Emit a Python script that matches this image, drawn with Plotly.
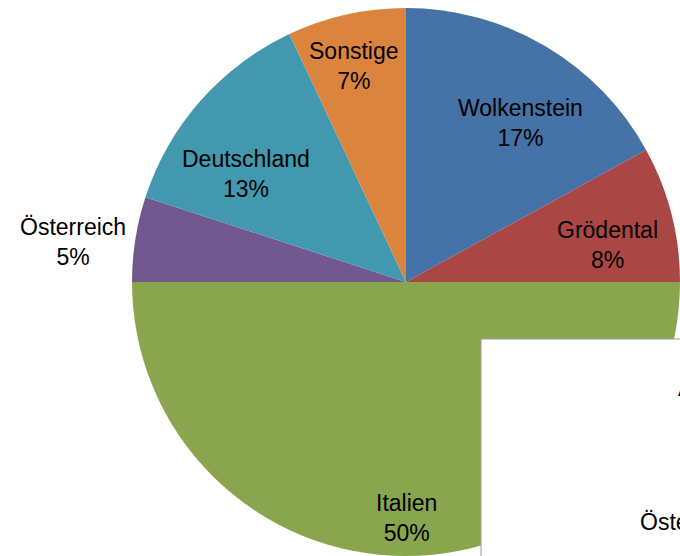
import math
import plotly.graph_objects as go

labels = ["Wolkenstein", "Grödental", "Italien", "Österreich", "Deutschland", "Sonstige"]
values = [17, 8, 50, 5, 13, 7]
colors = ["#4572A7", "#AA4643", "#89A54E", "#71588F", "#4198AF", "#DB843D"]

# label placement style (fraction of radius, angular nudge in degrees from slice mid-angle)
label_r = [0.716, 0.748, 0.863, 1.225, 0.705, 0.812]
label_nudge = [5.2, 4.1, 0.0, -2.1, -7.5, -0.8]

W, H = 680, 556
FONT = "Liberation Sans, Arial, sans-serif"
FS = 23

# pie geometry in pixels (domain chosen so pie nearly fills frame, as in reference)
x0_px, x1_px = 132, 680
y_top_px, y_bot_px = 8, 556
R = min(x1_px - x0_px, y_bot_px - y_top_px) / 2
cx = (x0_px + x1_px) / 2
cy = (y_top_px + y_bot_px) / 2

fig = go.Figure(go.Pie(
    labels=labels,
    values=values,
    sort=False,
    direction="clockwise",
    rotation=0,
    marker=dict(colors=colors, line=dict(width=0)),
    textinfo="none",
    domain=dict(x=[x0_px / W, x1_px / W], y=[1 - y_bot_px / H, 1 - y_top_px / H]),
    showlegend=False,
    hoverinfo="label+percent",
))

total = sum(values)
cum = 0.0
for lab, v, rf, nd in zip(labels, values, label_r, label_nudge):
    mid = (cum + v / 2) / total * 360.0
    cum += v
    a = math.radians(mid + nd)
    px = cx + rf * R * math.sin(a)
    py = cy - rf * R * math.cos(a)
    pct = round(v / total * 100)
    fig.add_annotation(xref="paper", yref="paper", x=px / W, y=1 - py / H,
                       xanchor="center", yanchor="middle", showarrow=False,
                       text=f"{lab}<br>{pct}%", align="center",
                       font=dict(family=FONT, size=FS, color="#000000"))

# overlapping (cropped) box of a neighbouring chart at bottom-right
fig.add_shape(type="rect", xref="paper", yref="paper",
              x0=481 / W, x1=1.1, y0=-0.1, y1=1 - 339 / H,
              fillcolor="white", line=dict(color="#9a9a9a", width=1), layer="above")
fig.add_annotation(xref="paper", yref="paper", x=638 / W, y=1 - 522 / H,
                   xanchor="left", yanchor="middle", showarrow=False,
                   text="Österreich",
                   font=dict(family=FONT, size=FS, color="#000000"))
fig.add_annotation(xref="paper", yref="paper", x=676 / W, y=1 - 388 / H,
                   xanchor="left", yanchor="middle", showarrow=False,
                   text="A",
                   font=dict(family=FONT, size=FS, color="#000000"))

fig.update_layout(
    width=W, height=H,
    margin=dict(l=0, r=0, t=0, b=0),
    paper_bgcolor="white",
    plot_bgcolor="white",
    showlegend=False,
)

fig.write_html("out.html",
               config={"displayModeBar": False},
               post_script="document.body.style.margin='0';document.body.style.overflow='hidden';")
